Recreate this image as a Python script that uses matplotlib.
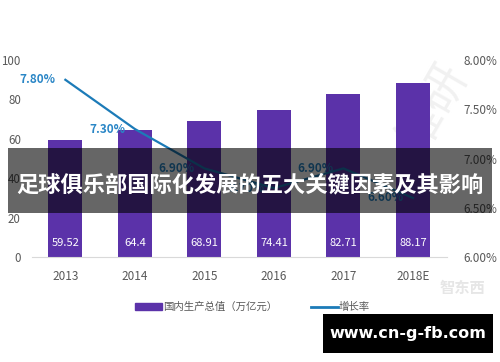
import matplotlib.pyplot as plt
from matplotlib.patches import Rectangle, Patch
from matplotlib.lines import Line2D

plt.rcParams['font.family'] = ['Noto Sans CJK SC', 'DejaVu Sans']

years = ["2013", "2014", "2015", "2016", "2017", "2018E"]
gdp = [59.52, 64.4, 68.91, 74.41, 82.71, 88.17]
growth = [7.8, 7.3, 6.9, 6.7, 6.9, 6.6]
gdp_ticks = [0, 20, 40, 60, 80, 100]
growth_ticks = [6.0, 6.5, 7.0, 7.5, 8.0]

bar_color = "#5b32a9"
line_color = "#1c7bb8"
label_blue = "#2a86c6"
tick_gray = "#595959"

fig = plt.figure(figsize=(5, 3.62), dpi=100)
ax = fig.add_axes([0.064, 0.290, 0.830, 0.544])
ax.patch.set_visible(False)
x = list(range(len(years)))

ax.bar(x, gdp, width=0.49, color=bar_color, zorder=2)
for xi, v in zip(x, gdp):
    ax.text(xi, 7, f"{v:g}", ha="center", va="center", color="white", fontsize=8, zorder=3)

ax.set_xlim(-0.48, 5.49)
ax.set_ylim(0, 100)
ax.set_yticks(gdp_ticks)
ax.set_xticks(x)
ax.set_xticklabels(years)
ax.tick_params(axis="both", length=0, colors=tick_gray, labelsize=8.5)
ax.tick_params(axis="y", pad=8, labelsize=8.3)
ax.tick_params(axis="x", pad=9)
for s in ["top", "right", "left"]:
    ax.spines[s].set_visible(False)
ax.spines["bottom"].set_color("#d9d9d9")

ax2 = ax.twinx()
ax2.patch.set_visible(False)
ax2.plot(x, growth, color=line_color, lw=1.6, zorder=4)
for xi, g in zip(x, growth):
    ax2.annotate(f"{g:.2f}%", (xi, g), xytext=(-7, 0), textcoords="offset points",
                 ha="right", va="center", color=label_blue, fontsize=8.5, fontweight="bold")
ax2.set_ylim(6, 8)
ax2.set_yticks(growth_ticks)
ax2.set_yticklabels([f"{t:.2f}%" for t in growth_ticks])
ax2.tick_params(axis="y", length=0, colors=tick_gray, labelsize=8.5, pad=12)
for s in ax2.spines.values():
    s.set_visible(False)

# faint watermarks behind the chart
fig.text(0.865, 0.70, "维研", fontsize=34, color="#f1f1f1", rotation=60,
         ha="center", va="center", zorder=-1)
fig.text(0.925, 0.205, "智东西", fontsize=11, color="#e6e6e6", ha="center", va="center",
         fontweight="bold", zorder=-1)

handles = [Patch(color=bar_color), Line2D([0], [0], color=line_color, lw=2)]
fig.legend(handles, ["国内生产总值（万亿元）", "增长率"], loc="center",
           bbox_to_anchor=(0.505, 0.152), ncol=2, frameon=False, fontsize=7.5,
           handlelength=2.6, handleheight=0.6, handletextpad=0.1, columnspacing=3.2,
           labelcolor=tick_gray)

# title banner
fig.add_artist(Rectangle((0.016, 0.4116), 0.968, 0.1796, transform=fig.transFigure,
                         facecolor="black", alpha=0.6, edgecolor="none", zorder=10))
fig.text(0.5, 0.490, "足球俱乐部国际化发展的五大关键因素及其影响", color="white",
         fontsize=16, fontweight="bold", ha="center", va="center", zorder=11)

# site badge
fig.add_artist(Rectangle((0.646, 0.025), 0.340, 0.108, transform=fig.transFigure,
                         facecolor="black", edgecolor="none", zorder=10))
fig.text(0.815, 0.080, "www.cn-g-fb.com", color="white", fontsize=11.5,
         fontweight="bold", ha="center", va="center", zorder=11,
         family=["DejaVu Sans"])

fig.savefig("out.png", dpi=100)
